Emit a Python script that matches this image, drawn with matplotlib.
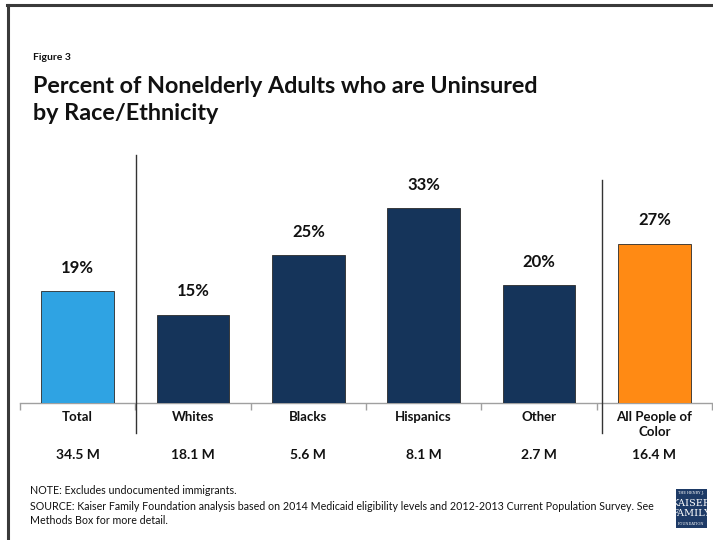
import matplotlib
matplotlib.use("Agg")
import matplotlib.pyplot as plt
from matplotlib.patches import Rectangle
from matplotlib.lines import Line2D

categories = ["Total", "Whites", "Blacks", "Hispanics", "Other", "All People of\nColor"]
values = [19, 15, 25, 33, 20, 27]
value_labels = ["19%", "15%", "25%", "33%", "20%", "27%"]
counts = ["34.5 M", "18.1 M", "5.6 M", "8.1 M", "2.7 M", "16.4 M"]
colors = ["#2FA3E3", "#15345A", "#15345A", "#15345A", "#15345A", "#FF8A14"]

FONT = "Lato"
W, H = 713, 540
fig = plt.figure(figsize=(W / 100, H / 100), dpi=100)

def fx(px):
    return px / W

def fy(py):
    return 1 - py / H

# axes: baseline at y=403, 5.9 px per percent
ymax = 40
ax_bottom = 403
ax_top = 403 - 5.9 * ymax
ax = fig.add_axes([fx(20), fy(ax_bottom), fx(712) - fx(20), fy(ax_top) - fy(ax_bottom)])
ax.set_xlim(-0.5, 5.5)
ax.set_ylim(0, ymax)
x = list(range(len(categories)))
ax.bar(x, values, width=0.63, color=colors, edgecolor="#2a2a2a", linewidth=0.6, zorder=3)
for xi, v, lab in zip(x, values, value_labels):
    ax.annotate(lab, (xi, v), xytext=(0, 11), textcoords="offset points",
                ha="center", va="bottom", fontsize=12, fontweight="bold",
                family=FONT, color="#111111")
for s in ["top", "right", "left"]:
    ax.spines[s].set_visible(False)
ax.spines["bottom"].set_color("#a0a0a0")
ax.spines["bottom"].set_linewidth(1.0)
ax.set_yticks([])
ax.set_xticks([i - 0.5 for i in range(len(categories) + 1)])
ax.set_xticklabels([])
ax.tick_params(axis="x", length=5, color="#a0a0a0", width=1.0)

# category labels and counts
for xi, c, n in zip(x, categories, counts):
    ax.annotate(c, (xi, 0), xytext=(0, -6), textcoords="offset points",
                ha="center", va="top", fontsize=9.5, fontweight="bold",
                family=FONT, color="#111111", linespacing=1.3, annotation_clip=False)
    ax.annotate(n, (xi, 0), xytext=(0, -33), textcoords="offset points",
                ha="center", va="top", fontsize=10, fontweight="bold",
                family=FONT, color="#111111", annotation_clip=False)

# vertical separators
fig.add_artist(Line2D([fx(136), fx(136)], [fy(155), fy(433)], color="#333333", lw=1.0))
fig.add_artist(Line2D([fx(602), fx(602)], [fy(180), fy(433)], color="#333333", lw=1.0))

# frame
fig.add_artist(Line2D([fx(8), fx(8)], [fy(5), fy(545)], color="#3a3a3a", lw=2.2))
fig.add_artist(Line2D([fx(7), fx(720)], [fy(5), fy(5)], color="#3a3a3a", lw=2.2))

# titles
fig.text(fx(33), fy(57), "Figure 3", fontsize=7.5, fontweight="bold", family=FONT,
         va="center", ha="left", color="#111111")
fig.text(fx(33), fy(100), "Percent of Nonelderly Adults who are Uninsured\nby Race/Ethnicity",
         fontsize=16.8, fontweight="bold", family=FONT, va="center", ha="left",
         color="#111111", linespacing=1.3)

# notes
fig.text(fx(30), fy(490), "NOTE: Excludes undocumented immigrants.", fontsize=7.7,
         family=FONT, va="center", ha="left", color="#111111")
fig.text(fx(30), fy(513.5),
         "SOURCE: Kaiser Family Foundation analysis based on 2014 Medicaid eligibility levels and 2012-2013 Current Population Survey. See\nMethods Box for more detail.",
         fontsize=7.7, family=FONT, va="center", ha="left", color="#111111", linespacing=1.3)

# logo
fig.add_artist(Rectangle((fx(676), fy(528)), fx(707) - fx(676), fy(489) - fy(528),
                         facecolor="#1d3a66", edgecolor="none"))
fig.text(fx(691.5), fy(493), "THE HENRY J.", fontsize=2.5, family="DejaVu Serif",
         color="white", ha="center", va="center")
fig.text(fx(691.5), fy(503), "KAISER", fontsize=7, family="DejaVu Serif",
         color="white", ha="center", va="center")
fig.text(fx(691.5), fy(514), "FAMILY", fontsize=7, family="DejaVu Serif",
         color="white", ha="center", va="center")
fig.text(fx(691.5), fy(524), "FOUNDATION", fontsize=2.5, family="DejaVu Serif",
         color="white", ha="center", va="center")

fig.savefig("out.png", dpi=100)
